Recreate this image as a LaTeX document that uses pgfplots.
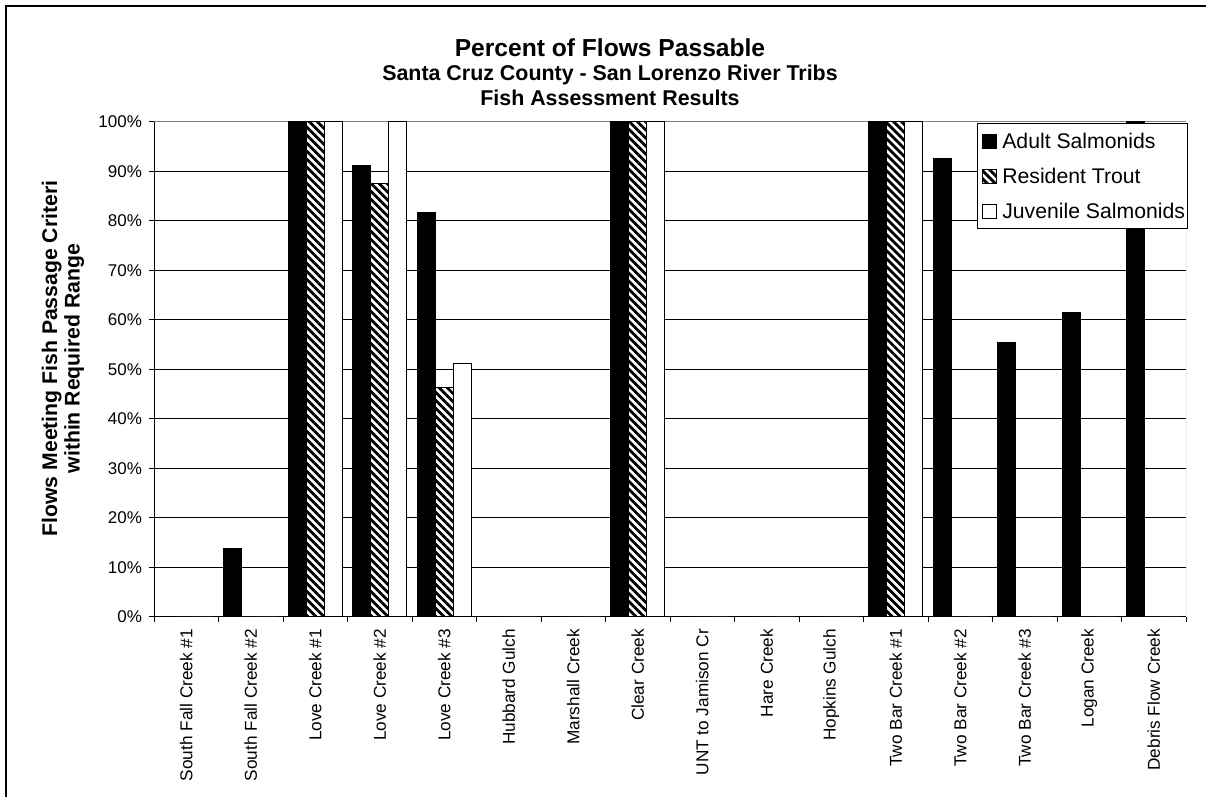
\documentclass[border=0pt]{standalone}
\usepackage{fontspec}
\setmainfont{Liberation Sans}
\usepackage{pgfplots}
\pgfplotsset{compat=1.18}
\usetikzlibrary{patterns.meta}

% Adult salmonids, resident trout, juvenile salmonids (percent of flows passable)
\pgfplotstableread{
x adult resident juvenile
0  0     0     0
1  13.8  0     0
2  100   100   100
3  91.2  87.6  100
4  81.8  46.4  51.2
5  0     0     0
6  0     0     0
7  100   100   100
8  0     0     0
9  0     0     0
10 0     0     0
11 100   100   100
12 92.7  0     0
13 55.5  0     0
14 61.6  0     0
15 100   0     0
}\passdata

\pgfplotsset{
  sqlegend/.style={legend image code/.code={%
    \path (0pt,0pt) (10.75pt,0pt);
    \draw[##1, line width=0.5pt] (1.25pt,-3.5pt) rectangle (8.25pt,3.5pt);}},
  widediag/.style={fill=white, postaction={pattern={Lines[angle=-45,distance=2.83pt,line width=1.4pt]}, pattern color=black}},
}

\begin{document}
\begin{tikzpicture}
\useasboundingbox (0pt,0pt) rectangle (603pt,398.5pt);
% chart area frame
\draw[line width=1pt] (3pt,-5pt) -- (3pt,395.5pt) -- (610pt,395.5pt);

% titles
\node[anchor=base, font=\bfseries\fontsize{12.3}{14}\selectfont] at (305pt,370pt) {Percent of Flows Passable};
\node[anchor=base, font=\bfseries\fontsize{10.7}{13}\selectfont] at (305pt,358.25pt) {Santa Cruz County - San Lorenzo River Tribs};
\node[anchor=base, font=\bfseries\fontsize{10.7}{13}\selectfont] at (305pt,345.5pt) {Fish Assessment Results};

% y axis title
\node[anchor=base, rotate=90, font=\bfseries\fontsize{10.6}{13}\selectfont] at (28.6pt,219.25pt) {Flows Meeting Fish Passage Criteri};
\node[anchor=base, rotate=90, font=\bfseries\fontsize{10.6}{13}\selectfont] at (39.8pt,219.25pt) {within Required Range};

\begin{axis}[
  at={(77pt,90pt)}, anchor=south west,
  scale only axis, width=516pt, height=247.5pt,
  ybar=0pt, bar width=9pt,
  xmin=-0.5, xmax=15.5, ymin=0, ymax=100,
  axis lines=left,
  axis line style={-, black, line width=0.5pt},
  xtick={-0.5,0.5,...,15.5},
  x tick label as interval,
  xticklabels={South Fall Creek \#1, South Fall Creek \#2, Love Creek \#1, Love Creek \#2, Love Creek \#3, Hubbard Gulch, Marshall Creek, Clear Creek, UNT to Jamison Cr, Hare Creek, Hopkins Gulch, Two Bar Creek \#1, Two Bar Creek \#2, Two Bar Creek \#3, Logan Creek, Debris Flow Creek},
  xticklabel style={rotate=90, anchor=east, font=\fontsize{8.6}{10}\selectfont},
  ytick={0,10,...,100},
  yticklabel={\pgfmathprintnumber{\tick}\%},
  yticklabel style={font=\fontsize{8.5}{10}\selectfont},
  /pgf/number format/assume math mode=true,
  tick align=outside,
  major tick length=2.5pt,
  tick style={black, line width=0.5pt},
  ymajorgrids,
  major grid style={black, line width=0.5pt},
  every axis plot post/.append style={sqlegend},
  legend style={
    at={(rel axis cs:1,1)}, anchor=north east, xshift=1pt, yshift=-0.5pt,
    draw=black, line width=0.5pt,
    font=\fontsize{10.6}{12}\selectfont,
    inner xsep=1.25pt, inner ysep=4.3pt, row sep=8.5pt, column sep=0pt,
    nodes={inner xsep=0pt, inner ysep=0pt, text height=8pt, text depth=1pt},
  },
  legend cell align=left,
]
% plot area border
\draw[gray, line width=0.5pt] (rel axis cs:0,1) -- (rel axis cs:1,1) -- (rel axis cs:1,0);
\addplot[fill=black, draw=black, line width=0.5pt] table[x=x, y=adult] {\passdata};
\addplot[widediag, draw=black, line width=0.5pt] table[x=x, y=resident] {\passdata};
\addplot[fill=white, draw=black, line width=0.5pt] table[x=x, y=juvenile] {\passdata};
\legend{Adult Salmonids, Resident Trout, Juvenile Salmonids}
\end{axis}
\end{tikzpicture}
\end{document}
